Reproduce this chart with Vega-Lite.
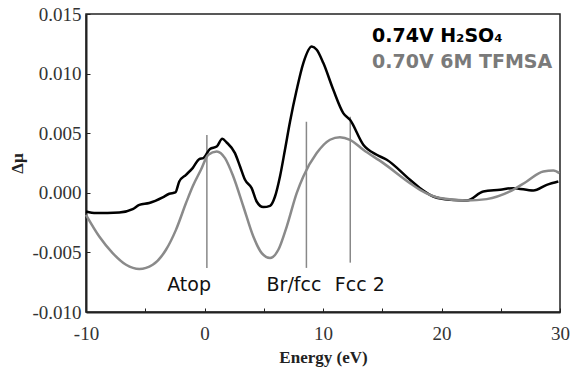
{
  "$schema": "https://vega.github.io/schema/vega-lite/v6.json",
  "width": 474,
  "height": 298,
  "autosize": {"type": "none"},
  "padding": {"left": 86, "top": 14, "right": 11, "bottom": 61},
  "background": "white",
  "config": {
    "view": {"stroke": "#222", "strokeWidth": 1.5},
    "font": "Liberation Serif",
    "axis": {"grid": false, "domainColor": "#222", "domainWidth": 2, "tickColor": "#222", "labelColor": "#333", "labelFont": "Liberation Serif", "labelFontSize": 19, "titleFont": "Liberation Serif", "titleColor": "#222"}
  },
  "datasets": {
    "curves": [
      {"series": "0.74V H₂SO₄", "E": -10.00, "V": -0.00157},
      {"series": "0.74V H₂SO₄", "E": -9.16, "V": -0.00170},
      {"series": "0.74V H₂SO₄", "E": -7.19, "V": -0.00165},
      {"series": "0.74V H₂SO₄", "E": -6.06, "V": -0.00137},
      {"series": "0.74V H₂SO₄", "E": -5.50, "V": -0.00101},
      {"series": "0.74V H₂SO₄", "E": -4.66, "V": -0.00086},
      {"series": "0.74V H₂SO₄", "E": -3.53, "V": -0.00039},
      {"series": "0.74V H₂SO₄", "E": -2.97, "V": -0.00008},
      {"series": "0.74V H₂SO₄", "E": -2.46, "V": 0.00003},
      {"series": "0.74V H₂SO₄", "E": -2.13, "V": 0.00095},
      {"series": "0.74V H₂SO₄", "E": -1.56, "V": 0.00151},
      {"series": "0.74V H₂SO₄", "E": -1.00, "V": 0.00207},
      {"series": "0.74V H₂SO₄", "E": -0.44, "V": 0.00283},
      {"series": "0.74V H₂SO₄", "E": -0.10, "V": 0.00291},
      {"series": "0.74V H₂SO₄", "E": 0.46, "V": 0.00367},
      {"series": "0.74V H₂SO₄", "E": 1.03, "V": 0.00388},
      {"series": "0.74V H₂SO₄", "E": 1.50, "V": 0.00453},
      {"series": "0.74V H₂SO₄", "E": 1.87, "V": 0.00422},
      {"series": "0.74V H₂SO₄", "E": 2.57, "V": 0.00333},
      {"series": "0.74V H₂SO₄", "E": 3.00, "V": 0.00221},
      {"series": "0.74V H₂SO₄", "E": 3.42, "V": 0.00109},
      {"series": "0.74V H₂SO₄", "E": 3.98, "V": 0.00039},
      {"series": "0.74V H₂SO₄", "E": 4.40, "V": -0.00073},
      {"series": "0.74V H₂SO₄", "E": 4.96, "V": -0.00120},
      {"series": "0.74V H₂SO₄", "E": 5.53, "V": -0.00109},
      {"series": "0.74V H₂SO₄", "E": 5.95, "V": -0.00031},
      {"series": "0.74V H₂SO₄", "E": 6.37, "V": 0.00137},
      {"series": "0.74V H₂SO₄", "E": 6.79, "V": 0.00361},
      {"series": "0.74V H₂SO₄", "E": 7.22, "V": 0.00598},
      {"series": "0.74V H₂SO₄", "E": 7.78, "V": 0.00864},
      {"series": "0.74V H₂SO₄", "E": 8.34, "V": 0.01088},
      {"series": "0.74V H₂SO₄", "E": 9.05, "V": 0.01227},
      {"series": "0.74V H₂SO₄", "E": 9.47, "V": 0.01200},
      {"series": "0.74V H₂SO₄", "E": 10.03, "V": 0.01088},
      {"series": "0.74V H₂SO₄", "E": 10.87, "V": 0.00864},
      {"series": "0.74V H₂SO₄", "E": 11.71, "V": 0.00669},
      {"series": "0.74V H₂SO₄", "E": 12.28, "V": 0.00612},
      {"series": "0.74V H₂SO₄", "E": 13.40, "V": 0.00403},
      {"series": "0.74V H₂SO₄", "E": 14.53, "V": 0.00319},
      {"series": "0.74V H₂SO₄", "E": 15.38, "V": 0.00277},
      {"series": "0.74V H₂SO₄", "E": 17.34, "V": 0.00109},
      {"series": "0.74V H₂SO₄", "E": 18.19, "V": 0.00039},
      {"series": "0.74V H₂SO₄", "E": 19.31, "V": -0.00031},
      {"series": "0.74V H₂SO₄", "E": 20.72, "V": -0.00059},
      {"series": "0.74V H₂SO₄", "E": 22.13, "V": -0.00065},
      {"series": "0.74V H₂SO₄", "E": 23.53, "V": 0.00011},
      {"series": "0.74V H₂SO₄", "E": 24.94, "V": 0.00025},
      {"series": "0.74V H₂SO₄", "E": 26.06, "V": 0.00039},
      {"series": "0.74V H₂SO₄", "E": 27.75, "V": 0.00019},
      {"series": "0.74V H₂SO₄", "E": 28.88, "V": 0.00067},
      {"series": "0.74V H₂SO₄", "E": 29.86, "V": 0.00095},
      {"series": "0.70V 6M TFMSA", "E": -10.00, "V": -0.00185},
      {"series": "0.70V 6M TFMSA", "E": -8.88, "V": -0.00367},
      {"series": "0.70V 6M TFMSA", "E": -7.75, "V": -0.00506},
      {"series": "0.70V 6M TFMSA", "E": -6.62, "V": -0.00604},
      {"series": "0.70V 6M TFMSA", "E": -5.50, "V": -0.00640},
      {"series": "0.70V 6M TFMSA", "E": -4.37, "V": -0.00604},
      {"series": "0.70V 6M TFMSA", "E": -3.25, "V": -0.00478},
      {"series": "0.70V 6M TFMSA", "E": -2.41, "V": -0.00311},
      {"series": "0.70V 6M TFMSA", "E": -1.56, "V": -0.00086},
      {"series": "0.70V 6M TFMSA", "E": -1.00, "V": 0.00053},
      {"series": "0.70V 6M TFMSA", "E": -0.30, "V": 0.00193},
      {"series": "0.70V 6M TFMSA", "E": 0.32, "V": 0.00319},
      {"series": "0.70V 6M TFMSA", "E": 1.03, "V": 0.00347},
      {"series": "0.70V 6M TFMSA", "E": 1.73, "V": 0.00291},
      {"series": "0.70V 6M TFMSA", "E": 2.43, "V": 0.00137},
      {"series": "0.70V 6M TFMSA", "E": 3.28, "V": -0.00115},
      {"series": "0.70V 6M TFMSA", "E": 4.12, "V": -0.00367},
      {"series": "0.70V 6M TFMSA", "E": 4.83, "V": -0.00506},
      {"series": "0.70V 6M TFMSA", "E": 5.53, "V": -0.00548},
      {"series": "0.70V 6M TFMSA", "E": 6.23, "V": -0.00478},
      {"series": "0.70V 6M TFMSA", "E": 6.94, "V": -0.00283},
      {"series": "0.70V 6M TFMSA", "E": 7.78, "V": -0.00003},
      {"series": "0.70V 6M TFMSA", "E": 8.34, "V": 0.00137},
      {"series": "0.70V 6M TFMSA", "E": 9.47, "V": 0.00333},
      {"series": "0.70V 6M TFMSA", "E": 10.59, "V": 0.00445},
      {"series": "0.70V 6M TFMSA", "E": 11.43, "V": 0.00467},
      {"series": "0.70V 6M TFMSA", "E": 12.28, "V": 0.00445},
      {"series": "0.70V 6M TFMSA", "E": 13.40, "V": 0.00361},
      {"series": "0.70V 6M TFMSA", "E": 15.09, "V": 0.00249},
      {"series": "0.70V 6M TFMSA", "E": 17.34, "V": 0.00081},
      {"series": "0.70V 6M TFMSA", "E": 18.19, "V": 0.00025},
      {"series": "0.70V 6M TFMSA", "E": 19.87, "V": -0.00044},
      {"series": "0.70V 6M TFMSA", "E": 22.13, "V": -0.00065},
      {"series": "0.70V 6M TFMSA", "E": 23.81, "V": -0.00053},
      {"series": "0.70V 6M TFMSA", "E": 25.78, "V": 0.00011},
      {"series": "0.70V 6M TFMSA", "E": 27.19, "V": 0.00095},
      {"series": "0.70V 6M TFMSA", "E": 28.59, "V": 0.00179},
      {"series": "0.70V 6M TFMSA", "E": 29.44, "V": 0.00187},
      {"series": "0.70V 6M TFMSA", "E": 29.94, "V": 0.00165}
    ],
    "markers": [
      {"label": "Atop", "E": 0.2, "lo": -0.0063, "hi": 0.00485, "LE": -1.3, "LV": -0.0082},
      {"label": "Br/fcc", "E": 8.6, "lo": -0.0063, "hi": 0.00596, "LE": 7.55, "LV": -0.0082},
      {"label": "Fcc 2", "E": 12.3, "lo": -0.00586, "hi": 0.00638, "LE": 13.1, "LV": -0.0082}
    ]
  },
  "layer": [
    {
      "mark": {"type": "rule", "color": "#666", "strokeWidth": 1},
      "encoding": {"y": {"datum": 0, "type": "quantitative", "scale": {"domain": [-0.01, 0.015]}}}
    },
    {
      "data": {"name": "markers"},
      "mark": {"type": "rule", "color": "#888", "strokeWidth": 1.5},
      "encoding": {
        "x": {"field": "E", "type": "quantitative"},
        "y": {"field": "lo", "type": "quantitative"},
        "y2": {"field": "hi"}
      }
    },
    {
      "data": {"name": "curves"},
      "mark": {"type": "line", "interpolate": "monotone", "strokeWidth": 2.5},
      "encoding": {
        "x": {
          "field": "E", "type": "quantitative",
          "scale": {"domain": [-10, 30], "nice": false, "zero": false},
          "axis": {
            "title": "Energy (eV)", "titleFont": "Liberation Serif", "titleFontWeight": "bold", "titleFontSize": 17, "titlePadding": 6,
            "values": [-10, -5, 0, 5, 10, 15, 20, 25, 30],
            "labelExpr": "datum.value % 10 === 0 ? replace(format(datum.value, 'd'), '−', '-') : ''",
            "labelFont": "Liberation Serif", "labelFontSize": 19, "labelColor": "#333",
            "tickSize": -4, "labelPadding": 16, "labelFlush": false
          }
        },
        "y": {
          "field": "V", "type": "quantitative",
          "scale": {"domain": [-0.01, 0.015], "nice": false, "zero": false},
          "axis": {
            "title": "Δμ", "titleFont": "Liberation Serif", "titleFontWeight": "bold", "titleFontSize": 17, "titlePadding": 5,
            "values": [-0.01, -0.005, 0, 0.005, 0.01, 0.015],
            "labelExpr": "replace(format(datum.value, '.3f'), '−', '-')",
            "labelFont": "Liberation Serif", "labelFontSize": 19, "labelColor": "#333",
            "tickSize": -4, "labelPadding": 9, "labelFlush": false
          }
        },
        "color": {
          "field": "series", "type": "nominal",
          "scale": {"domain": ["0.74V H₂SO₄", "0.70V 6M TFMSA"], "range": ["#000000", "#8a8a8a"]},
          "legend": {
            "title": null, "orient": "none", "legendX": 267, "legendY": 12,
            "symbolSize": 0, "symbolOpacity": 0, "symbolStrokeWidth": 0, "labelOffset": 0,
            "labelFont": "DejaVu Sans", "labelFontWeight": "bold", "labelFontSize": 19,
            "rowPadding": 6, "padding": 0, "labelLimit": 300,
            "encode": {"labels": {"update": {"fill": {"signal": "datum.value === '0.74V H₂SO₄' ? '#000000' : '#7a7a7a'"}}}}
          }
        }
      }
    },
    {
      "data": {"name": "markers"},
      "mark": {"type": "text", "font": "DejaVu Sans", "fontSize": 19, "align": "center", "baseline": "alphabetic", "color": "#111"},
      "encoding": {
        "x": {"field": "LE", "type": "quantitative"},
        "y": {"field": "LV", "type": "quantitative"},
        "text": {"field": "label"}
      }
    }
  ]
}
